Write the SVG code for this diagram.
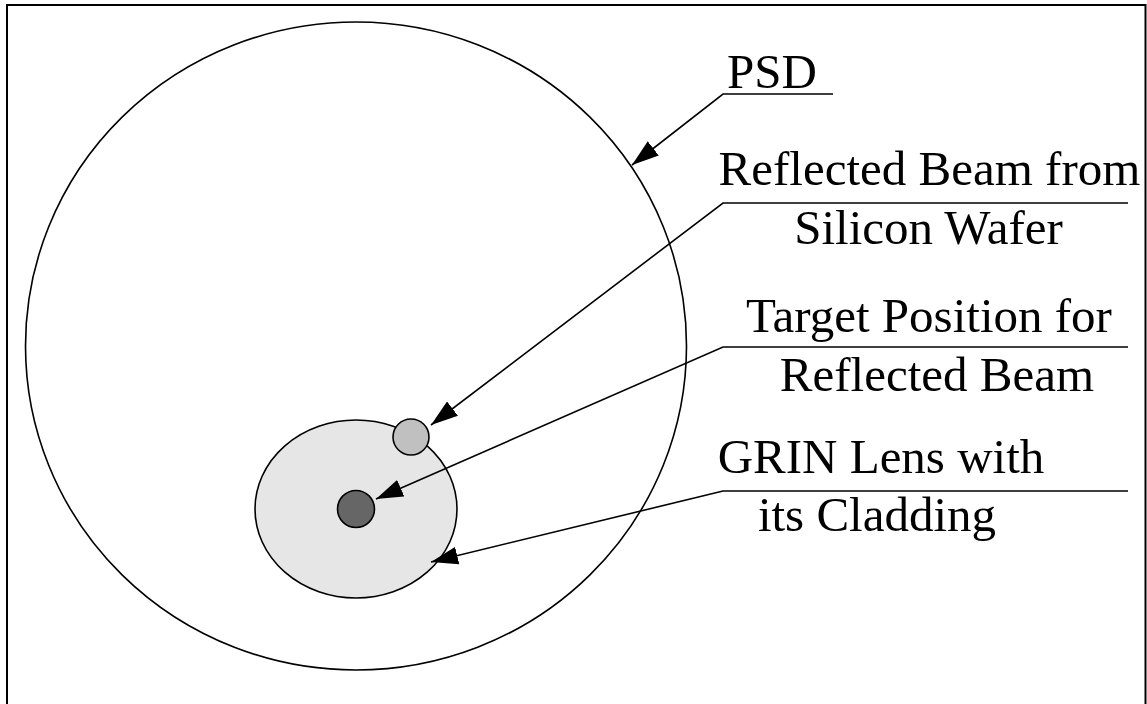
<svg xmlns="http://www.w3.org/2000/svg" width="1147" height="704" viewBox="0 0 1147 704">
<style>
.ln{stroke:#000;stroke-width:1.6;fill:none}
.sh{stroke:#000;stroke-width:1.6}
</style>
<defs>
<marker id="ah" viewBox="0 0 27 18" refX="27" refY="9" markerWidth="27" markerHeight="18" markerUnits="userSpaceOnUse" orient="auto">
<path d="M0,0 L27,9 L0,18 z" fill="#000"/>
</marker>
</defs>
<rect width="1147" height="704" fill="#fff"/>
<rect x="7" y="5" width="1138.5" height="704" fill="none" stroke="#000" stroke-width="2"/>
<g id="psd"><ellipse cx="356" cy="346" rx="330.5" ry="324" fill="none" class="sh"/></g>
<g id="grin"><ellipse cx="356" cy="509" rx="101" ry="89" fill="#e6e6e6" class="sh"/></g>
<g id="target"><circle cx="356" cy="509" r="18.5" fill="#666666" class="sh"/></g>
<g id="reflected"><circle cx="411" cy="437" r="18" fill="#c0c0c0" class="sh"/></g>
<g id="labels" font-family="'Liberation Serif', 'DejaVu Serif', 'Times New Roman', serif" font-size="49" fill="#000" text-anchor="middle">
<text x="772" y="88">PSD</text>
<text x="929.5" y="185">Reflected Beam from</text>
<text x="928.5" y="244">Silicon Wafer</text>
<text x="929" y="332">Target Position for</text>
<text x="937" y="391">Reflected Beam</text>
<text x="881" y="473">GRIN Lens with</text>
<text x="877" y="531">its Cladding</text>
</g>
<g id="connectors">
<polyline class="ln" points="833,94 723,94 632,165" marker-end="url(#ah)"/>
<polyline class="ln" points="1128,203 723,203 431,425" marker-end="url(#ah)"/>
<polyline class="ln" points="1128,347 723,347 376,499" marker-end="url(#ah)"/>
<polyline class="ln" points="1128,491 723,491 431,562" marker-end="url(#ah)"/>
</g>
</svg>
